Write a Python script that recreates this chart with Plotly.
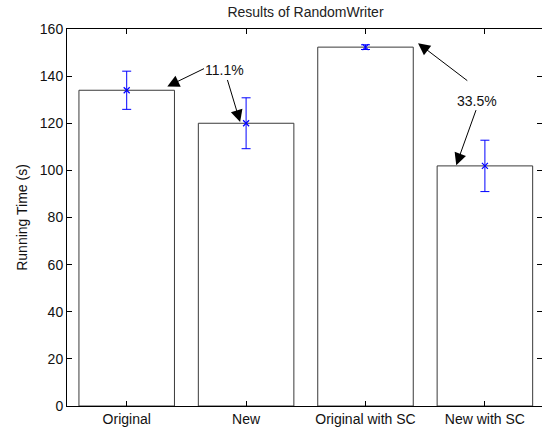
import plotly.graph_objects as go

categories = ["Original", "New", "Original with SC", "New with SC"]
positions = [1, 2, 3, 4]
means = [134.0, 120.0, 152.3, 101.9]
errors = [8.1, 10.8, 1.0, 10.9]
yticks = [0, 20, 40, 60, 80, 100, 120, 140, 160]

# annotation data: (label, label_x, label_y, [(tail_x, tail_y, tip_x, tip_y), ...])
ann_labels = ["11.1%", "33.5%"]
ann_text_pos = [(1.82, 142.6), (3.93, 129.5)]
ann_arrows = [
    [(1.66, 143.5, 1.34, 135.6), (1.84, 139.0, 1.95, 120.5)],
    [(3.865, 137.6, 3.44, 154.0), (3.93, 126.2, 3.76, 102.2)],
]

FONT = "Liberation Sans, Arial, Helvetica, sans-serif"

fig = go.Figure()
fig.add_trace(go.Bar(
    x=positions, y=means, width=0.8,
    marker=dict(color="white", line=dict(color="#3a3a3a", width=1)),
    showlegend=False, hoverinfo="skip",
))
fig.add_trace(go.Scatter(
    x=positions, y=means, mode="markers",
    marker=dict(symbol="x-thin-open", size=6, color="#0000ff",
                line=dict(color="#0000ff", width=1.2)),
    error_y=dict(type="data", array=errors, visible=True,
                 color="#0000ff", thickness=1, width=4.5),
    showlegend=False,
))
# invisible trace on right axis to get right-side ticks
fig.add_trace(go.Scatter(x=[positions[0]], y=[means[0]], yaxis="y2",
                         mode="markers", marker=dict(opacity=0),
                         showlegend=False, hoverinfo="skip"))

annotations = []
for lab, (tx, ty), arrs in zip(ann_labels, ann_text_pos, ann_arrows):
    annotations.append(dict(x=tx, y=ty, xref="x", yref="y", text=lab,
                            showarrow=False, font=dict(size=14, color="#111", family=FONT)))
    for (ax_, ay_, x_, y_) in arrs:
        annotations.append(dict(x=x_, y=y_, ax=ax_, ay=ay_, xref="x", yref="y",
                                axref="x", ayref="y", text="", showarrow=True,
                                arrowhead=2, arrowsize=2.4, arrowwidth=1,
                                arrowcolor="black", standoff=0, startstandoff=0))

xmax = 0.5 + (542 - 67) / 119.4

fig.update_layout(
    width=542, height=427,
    margin=dict(l=67, r=0, t=29, b=17),
    paper_bgcolor="white", plot_bgcolor="white",
    font=dict(family=FONT, size=14, color="#111"),
    title=dict(text="Results of RandomWriter", x=(67 + 544) / 2 / 542, xanchor="center",
               y=1 - 12.5 / 427, yanchor="middle", font=dict(size=14, color="#222")),
    bargap=0.2,
    xaxis=dict(range=[0.5, xmax], tickvals=positions, ticktext=categories,
               showline=True, linecolor="black", linewidth=1, mirror="ticks",
               ticks="inside", ticklen=5, tickcolor="black", showgrid=False,
               zeroline=False, tickfont=dict(size=14, color="#111")),
    yaxis=dict(range=[0, 160], tickvals=yticks, showline=True, linecolor="black",
               linewidth=1, mirror=False, ticks="inside", ticklen=5,
               tickcolor="black", showgrid=False, zeroline=False,
               title=dict(text="Running Time (s)", standoff=8, font=dict(size=14)),
               tickfont=dict(size=14, color="#111")),
    yaxis2=dict(range=[0, 160], tickvals=yticks, overlaying="y", side="right",
                showticklabels=False, showline=False, ticks="inside", ticklen=5,
                tickcolor="black", showgrid=False, zeroline=False),
    annotations=annotations,
)

fig.write_html("out.html")
